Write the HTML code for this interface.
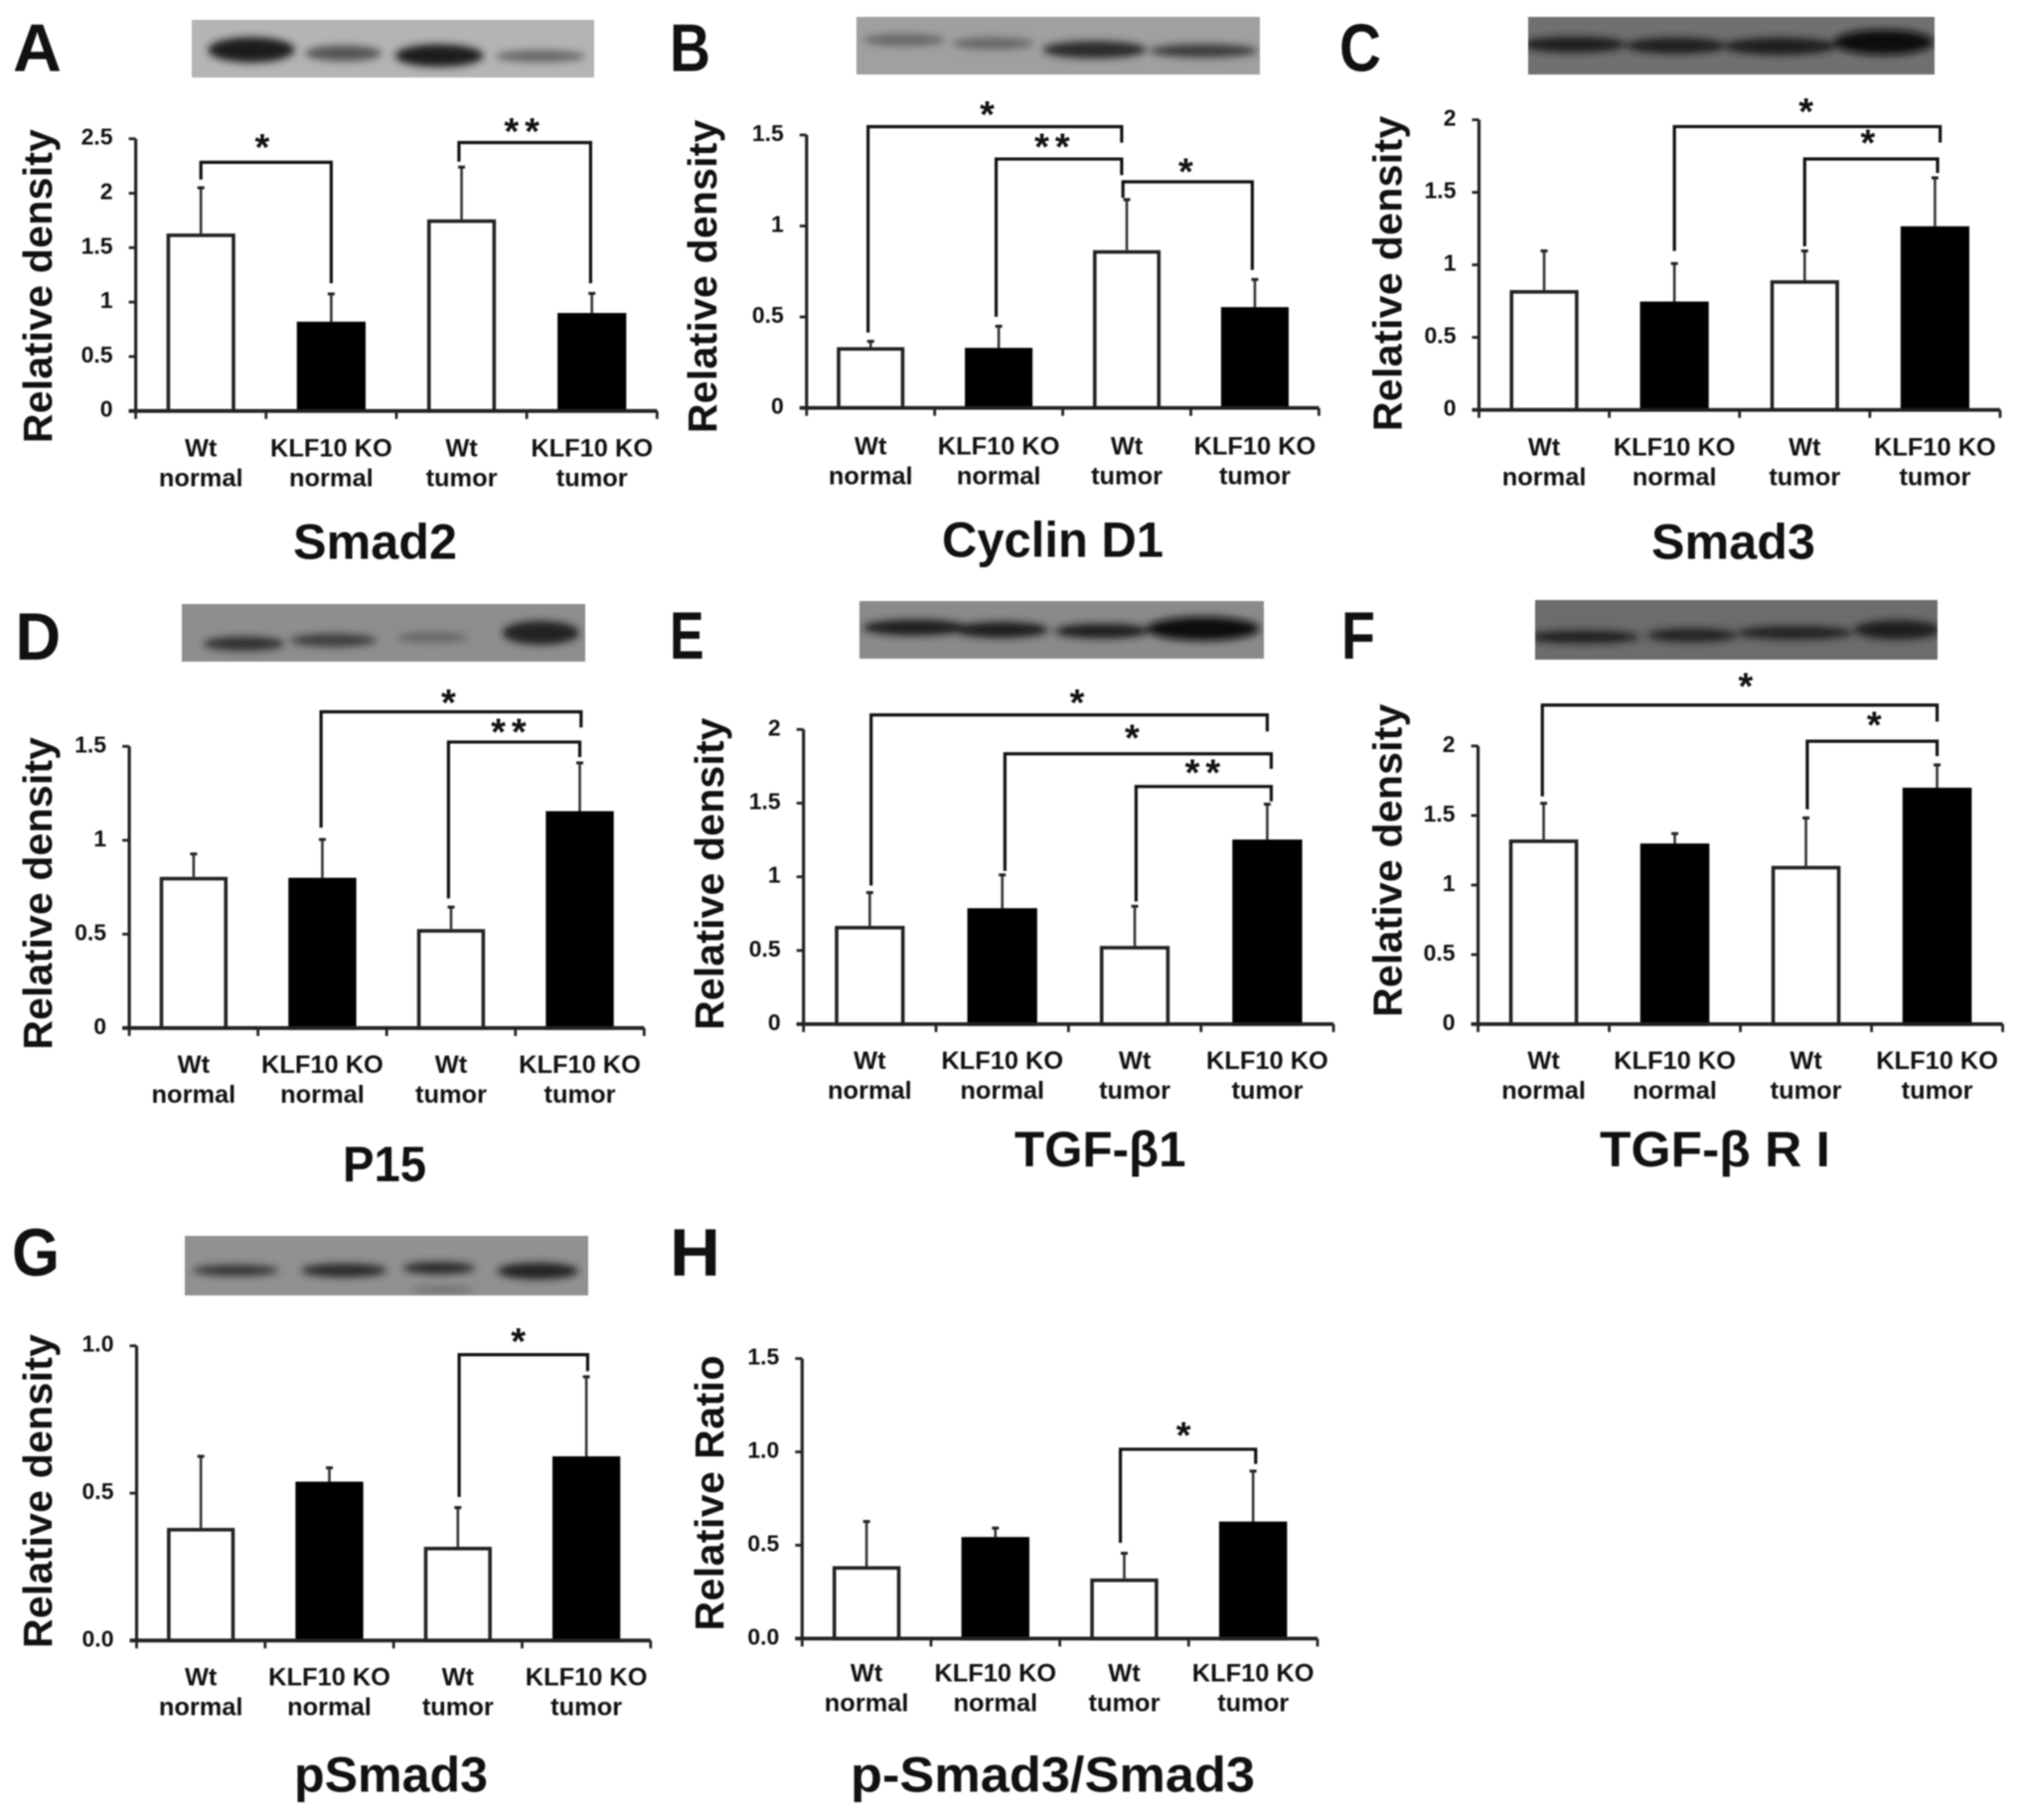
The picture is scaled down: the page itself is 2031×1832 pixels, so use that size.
<!DOCTYPE html>
<html lang="en">
<head>
<meta charset="utf-8">
<title>Relative density of signalling proteins in Wt and KLF10 KO tissue</title>
<style>
  html, body { margin: 0; padding: 0; background: #fff; width: 2031px; height: 1832px; overflow: hidden; }
  svg#figure { display: block; filter: blur(0.7px); }
  text { font-family: "Liberation Sans", sans-serif; font-weight: bold; fill: #111; }
</style>
</head>
<body>
<svg id="figure" xmlns="http://www.w3.org/2000/svg" width="2031" height="1832" viewBox="0 0 2031 1832">
  <defs>
    <filter id="band-blur" x="-40%" y="-100%" width="180%" height="300%"><feGaussianBlur stdDeviation="4"></feGaussianBlur></filter>
  </defs>
</svg>
<script>
// ---- shared categories ----
const categoryLine1 = ['Wt', 'KLF10 KO', 'Wt', 'KLF10 KO'];
const categoryLine2 = ['normal', 'normal', 'tumor', 'tumor'];

// ---- tick labels ----
const smad2Ticks = ['0', '0.5', '1', '1.5', '2', '2.5'];
const cyclinTicks = ['0', '0.5', '1', '1.5'];
const smad3Ticks = ['0', '0.5', '1', '1.5', '2'];
const p15Ticks = ['0', '0.5', '1', '1.5'];
const tgfb1Ticks = ['0', '0.5', '1', '1.5', '2'];
const tgfbr1Ticks = ['0', '0.5', '1', '1.5', '2'];
const psmad3Ticks = ['0.0', '0.5', '1.0'];
const ratioTicks = ['0.0', '0.5', '1.0', '1.5'];

// ---- bar heights ----
const smad2Means = [1.63, 0.82, 1.76, 0.90];
const cyclinMeans = [0.334, 0.33, 0.867, 0.554];
const smad3Means = [0.826, 0.747, 0.894, 1.266];
const p15Means = [0.805, 0.80, 0.527, 1.155];
const tgfb1Means = [0.667, 0.787, 0.531, 1.253];
const tgfbr1Means = [1.328, 1.299, 1.138, 1.70];
const psmad3Means = [0.382, 0.539, 0.318, 0.625];
const ratioMeans = [0.388, 0.544, 0.322, 0.627];

// ---- error bar tops ----
const smad2Upper = [2.05, 1.075, 2.24, 1.08];
const cyclinUpper = [0.366, 0.449, 1.145, 0.706];
const smad3Upper = [1.096, 1.009, 1.096, 1.60];
const p15Upper = [0.927, 1.004, 0.644, 1.412];
const tgfb1Upper = [0.893, 1.013, 0.80, 1.493];
const tgfbr1Upper = [1.588, 1.37, 1.483, 1.864];
const psmad3Upper = [0.625, 0.586, 0.451, 0.895];
const ratioUpper = [0.627, 0.592, 0.457, 0.897];

// ---- significance brackets: [from category, to category, level, left end, right end, label, label category, label lift] ----
const smad2Brackets = [[0, 1, 2.284, 2.126, 1.173, '*', 0.47, 18], [1.98, 2.99, 2.465, 2.29, 1.173, '**', 2.485, 14]];
const cyclinBrackets = [[-0.02, 1.96, 1.546, 0.414, 1.458, '*', 0.91, 15], [0.98, 1.96, 1.368, 0.501, 1.28, '**', 1.44, 15], [1.97, 2.98, 1.243, 1.155, 0.758, '*', 2.46, 13]];
const smad3Brackets = [[1, 3.04, 1.953, 1.096, 1.843, '*', 2.01, 18], [2, 3.02, 1.73, 1.127, 1.633, '*', 2.485, 19]];
const p15Brackets = [[0.99, 3.01, 1.684, 1.067, 1.601, '*', 1.98, 12], [1.98, 3, 1.523, 0.69, 1.443, '**', 2.47, 13]];
const tgfb1Brackets = [[0.01, 3, 2.099, 0.941, 1.987, '*', 1.565, 15], [1.02, 3.03, 1.835, 1.04, 1.733, '*', 1.98, 19], [2.01, 3.03, 1.613, 0.832, 1.512, '**', 2.535, 17]];
const tgfbr1Brackets = [[-0.01, 3, 2.294, 1.638, 2.175, '*', 1.54, 22], [2.01, 3, 2.034, 1.545, 1.927, '*', 2.52, 19]];
const psmad3Brackets = [[2.01, 3.01, 0.97, 0.487, 0.914, '*', 2.47, 16]];
const ratioBrackets = [[1.97, 3.02, 1.014, 0.513, 0.935, '*', 2.46, 17]];

// ---- layout of each panel (frame in pixels, not data) ----
const panels = [
  { id: 'a', letter: 'A', lx: 13, ly: 71.5, lw: 49, title: 'Smad2', tx: 295, tw: 165, ty: 562.6, yLabel: 'Relative density', yb: 52, y1: 130, y2: 446, lab: 46,
    x0: 136.6, x1: 661.3, y0: 413.7, yt: 139.7, ticks: smad2Ticks, means: smad2Means, upper: smad2Upper, brackets: smad2Brackets,
    blot: { x: 193, y: 20, w: 405, h: 58, bg: '#b4b4b4', bands: [[.148,.52,.096,.19,'#1a1a1a'],[.377,.58,.085,.12,'#555'],[.615,.62,.098,.17,'#1a1a1a'],[.866,.63,.10,.09,'#666']] } },
  { id: 'b', letter: 'B', lx: 674, ly: 71.6, lw: 41, title: 'Cyclin D1', tx: 948, tw: 223, ty: 560.6, yLabel: 'Relative density', yb: 721, y1: 120.5, y2: 436, lab: 47,
    x0: 811.8, x1: 1327.4, y0: 410.6, yt: 135.9, ticks: cyclinTicks, means: cyclinMeans, upper: cyclinUpper, brackets: cyclinBrackets,
    blot: { x: 862, y: 17, w: 406, h: 58, bg: '#a0a0a0', bands: [[.118,.40,.09,.09,'#666'],[.338,.46,.09,.09,'#666'],[.59,.57,.115,.13,'#2a2a2a'],[.86,.59,.12,.10,'#3a3a3a']] } },
  { id: 'c', letter: 'C', lx: 1348, ly: 71.6, lw: 42, title: 'Smad3', tx: 1662, tw: 165, ty: 562.6, yLabel: 'Relative density', yb: 1410.5, y1: 116.7, y2: 434, lab: 46,
    x0: 1488.5, x1: 2013, y0: 412.6, yt: 120.6, ticks: smad3Ticks, means: smad3Means, upper: smad3Upper, brackets: smad3Brackets,
    blot: { x: 1538, y: 17, w: 409, h: 58, bg: '#707070', bands: [[.113,.48,.115,.12,'#1c1c1c'],[.364,.50,.11,.12,'#1c1c1c'],[.62,.51,.125,.13,'#1c1c1c'],[.875,.44,.11,.19,'#111']] } },
  { id: 'd', letter: 'D', lx: 15.5, ly: 664, lw: 45.6, title: 'P15', tx: 345, tw: 84, ty: 1189, yLabel: 'Relative density', yb: 52, y1: 742, y2: 1056.6, lab: 45,
    x0: 130.1, x1: 648.3, y0: 1034.8, yt: 751.3, ticks: p15Ticks, means: p15Means, upper: p15Upper, brackets: p15Brackets,
    blot: { x: 183, y: 608, w: 406, h: 58, bg: '#8e8e8e', bands: [[.154,.69,.09,.11,'#333'],[.376,.63,.095,.10,'#3c3c3c'],[.622,.58,.08,.08,'#666'],[.89,.50,.085,.18,'#222']] } },
  { id: 'e', letter: 'E', lx: 674, ly: 663, lw: 34.6, title: 'TGF-β1', tx: 1021, tw: 172.5, ty: 1174, yLabel: 'Relative density', yb: 728, y1: 722.5, y2: 1036.8, lab: 45,
    x0: 808.7, x1: 1342.1, y0: 1030.9, yt: 734.3, ticks: tgfb1Ticks, means: tgfb1Means, upper: tgfb1Upper, brackets: tgfb1Brackets,
    blot: { x: 865, y: 605, w: 407, h: 58, bg: '#8a8a8a', bands: [[.137,.46,.115,.12,'#1e1e1e'],[.35,.50,.105,.12,'#1e1e1e'],[.60,.52,.105,.11,'#1e1e1e'],[.85,.48,.125,.18,'#111']] } },
  { id: 'f', letter: 'F', lx: 1350, ly: 663, lw: 34, title: 'TGF-β R I', tx: 1610, tw: 232, ty: 1174, yLabel: 'Relative density', yb: 1410.5, y1: 708.6, y2: 1023.8, lab: 45,
    x0: 1487.6, x1: 2015.6, y0: 1030.9, yt: 750.9, ticks: tgfbr1Ticks, means: tgfbr1Means, upper: tgfbr1Upper, brackets: tgfbr1Brackets,
    blot: { x: 1545, y: 604, w: 405, h: 60, bg: '#6c6c6c', bands: [[.12,.62,.125,.09,'#1c1c1c'],[.39,.59,.10,.10,'#222'],[.645,.55,.13,.10,'#222'],[.90,.50,.095,.14,'#1a1a1a']] } },
  { id: 'g', letter: 'G', lx: 12, ly: 1284, lw: 48, title: 'pSmad3', tx: 296, tw: 195, ty: 1803.5, yLabel: 'Relative density', yb: 52, y1: 1343, y2: 1659, lab: 45,
    x0: 137.5, x1: 654.8, y0: 1651.3, yt: 1354.7, ticks: psmad3Ticks, means: psmad3Means, upper: psmad3Upper, brackets: psmad3Brackets,
    blot: { x: 186, y: 1244, w: 406, h: 60, bg: '#919191', bands: [[.126,.58,.095,.08,'#333'],[.395,.58,.095,.10,'#2a2a2a'],[.63,.54,.08,.09,'#2a2a2a'],[.875,.59,.09,.12,'#222'],[.64,.90,.07,.05,'#6e6e6e']] } },
  { id: 'h', letter: 'H', lx: 674, ly: 1284, lw: 51, title: 'p-Smad3/Smad3', tx: 856, tw: 407, ty: 1803.5, yLabel: 'Relative Ratio', yb: 728, y1: 1364.4, y2: 1641.5, lab: 43,
    x0: 807.3, x1: 1326, y0: 1649.4, yt: 1367.5, ticks: ratioTicks, means: ratioMeans, upper: ratioUpper, brackets: ratioBrackets,
    blot: null }
];

const SVG_NS = 'http://www.w3.org/2000/svg';
const root = document.getElementById('figure');

function make(parent, tag, attrs, content) {
  const node = document.createElementNS(SVG_NS, tag);
  for (const key in attrs) node.setAttribute(key, attrs[key]);
  if (content !== undefined) node.textContent = content;
  parent.appendChild(node);
  return node;
}

function drawBlot(parent, blot) {
  const frame = make(parent, 'svg', { x: blot.x, y: blot.y, width: blot.w, height: blot.h });
  
  
  make(frame, 'rect', { x: 0, y: 0, width: blot.w, height: blot.h, fill: blot.bg });
  const bandLayer = make(frame, 'g', { filter: 'url(#band-blur)' });
  blot.bands.forEach(function (band) {
    const ellipse = make(bandLayer, 'ellipse', {
      cx: band[0] * blot.w, cy: band[1] * blot.h, rx: band[2] * blot.w * 1.12, ry: band[3] * blot.h * 1.15, fill: band[4]
    });
    
    
  });
}

function drawPanel(p) {
  const group = make(root, 'g', {});
  
  

  const yMax = parseFloat(p.ticks[p.ticks.length - 1]);
  const step = (p.x1 - p.x0) / 4;
  const xScale = function (c) { return p.x0 + (c + 0.5) * step; };
  const yScale = function (v) { return p.y0 - (v / yMax) * (p.y0 - p.yt); };
  const barWidth = step * 0.5;

  const letter = make(group, 'text', { x: p.lx, y: p.ly, 'font-size': 68, textLength: p.lw, lengthAdjust: 'spacingAndGlyphs' }, p.letter);
  
  

  if (p.blot) drawBlot(group, p.blot);

  const yTitle = make(group, 'text', {
    transform: 'translate(' + p.yb + ' ' + p.y2 + ') rotate(-90)',
    'font-size': 41, textLength: p.y2 - p.y1, lengthAdjust: 'spacing'
  }, p.yLabel);
  
  

  p.ticks.forEach(function (label) {
    const v = parseFloat(label);
    const y = yScale(v);
    const mark = make(group, 'line', { x1: p.x0 - 7, x2: p.x0, y1: y, y2: y, stroke: '#222', 'stroke-width': 2.8 });
    
    
    const text = make(group, 'text', { x: p.x0 - 23, y: y + 6, 'font-size': 23, 'text-anchor': 'end' }, label);
    
    
  });

  for (let i = 0; i <= 4; i++) {
    const x = p.x0 + i * step;
    const mark = make(group, 'line', { x1: x, x2: x, y1: p.y0, y2: p.y0 + 8, stroke: '#222', 'stroke-width': 2.8 });
    
    
  }

  p.means.forEach(function (mean, i) {
    const cx = xScale(i);
    const errorLine = make(group, 'line', { x1: cx, x2: cx, y1: yScale(mean), y2: yScale(p.upper[i]), stroke: '#333', 'stroke-width': 2.6 });
    
    
    const errorCap = make(group, 'line', { x1: cx - 3.5, x2: cx + 3.5, y1: yScale(p.upper[i]), y2: yScale(p.upper[i]), stroke: '#222', 'stroke-width': 3 });
    
    

    const knockout = i % 2 === 1;
    const barTop = yScale(mean) + 1.8;
    const bar = make(group, 'rect', {
      x: cx - barWidth / 2, y: barTop, width: barWidth, height: p.y0 - barTop,
      fill: knockout ? '#000' : '#fff', stroke: knockout ? '#000' : '#222', 'stroke-width': 3.6
    });
    
    

    const line1 = make(group, 'text', { x: cx, y: p.y0 + p.lab, 'font-size': 25.4, 'text-anchor': 'middle' }, categoryLine1[i]);
    
    
    const line2 = make(group, 'text', { x: cx, y: p.y0 + p.lab + 30, 'font-size': 25.4, 'text-anchor': 'middle' }, categoryLine2[i]);
    
    
  });

  const yAxis = make(group, 'line', { x1: p.x0, x2: p.x0, y1: p.yt, y2: p.y0 + 1.5, stroke: '#222', 'stroke-width': 3.2 });
  
  
  const xAxis = make(group, 'line', { x1: p.x0 - 7, x2: p.x1, y1: p.y0, y2: p.y0, stroke: '#222', 'stroke-width': 3.8 });
  
  

  p.brackets.forEach(function (b) {
    const xa = xScale(b[0]);
    const xb = xScale(b[1]);
    const top = yScale(b[2]);
    const points = xa + ',' + yScale(b[3]) + ' ' + xa + ',' + top + ' ' + xb + ',' + top + ' ' + xb + ',' + yScale(b[4]);
    const bracket = make(group, 'polyline', { points: points, fill: 'none', stroke: '#111', 'stroke-width': 3.2 });
    
    
    const star = make(group, 'text', { x: xScale(b[6]), y: top - b[7] + 15.6, 'font-size': 38, 'text-anchor': 'middle', 'letter-spacing': b[5].length > 1 ? 6 : 0 }, b[5]);
    
    
  });

  const title = make(group, 'text', { x: p.tx, y: p.ty, 'font-size': 50, textLength: p.tw, lengthAdjust: 'spacingAndGlyphs' }, p.title);
  
  
}

panels.forEach(drawPanel);
</script>
</body>
</html>
